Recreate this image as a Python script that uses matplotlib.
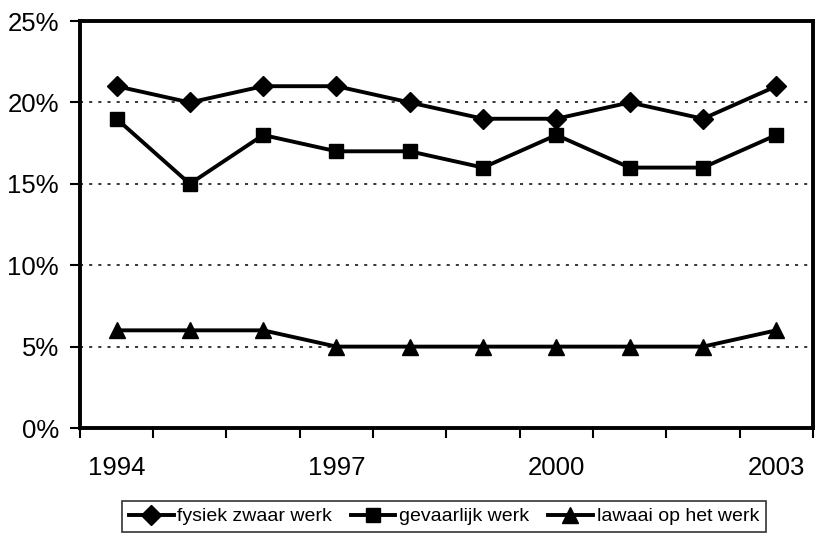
import numpy as np
import matplotlib.pyplot as plt
from matplotlib.ticker import FuncFormatter

plt.rcParams['font.family'] = ['Liberation Sans', 'DejaVu Sans']

# data (percent)
years = [1994, 1995, 1996, 1997, 1998, 1999, 2000, 2001, 2002, 2003]
fysiek = [21, 20, 21, 21, 20, 19, 19, 20, 19, 21]
gevaarlijk = [19, 15, 18, 17, 17, 16, 18, 16, 16, 18]
lawaai = [6, 6, 6, 5, 5, 5, 5, 5, 5, 6]
labels = ['fysiek zwaar werk', 'gevaarlijk werk', 'lawaai op het werk']
shown_years = [1994, 1997, 2000, 2003]

fig = plt.figure(figsize=(8.15, 5.34), dpi=100)
ax = fig.add_axes([0.098, 0.1985, 0.8995, 0.762])

x = np.arange(len(years))
ax.plot(x, fysiek, color='black', lw=2.8, marker='D', ms=10, label=labels[0])
ax.plot(x, gevaarlijk, color='black', lw=2.8, marker='s', ms=9.5, label=labels[1])
ax.plot(x, lawaai, color='black', lw=2.8, marker='^', ms=11, label=labels[2])

ax.set_xlim(-0.5, len(years) - 0.5)
ax.set_ylim(0, 25)

# category axis: ticks between categories, labels every third year
ax.set_xticks(np.arange(-0.5, len(years)), labels=[''] * (len(years) + 1))
ax.set_xticks([years.index(y) for y in shown_years], labels=[str(y) for y in shown_years], minor=True)
ax.tick_params(axis='x', which='major', length=7, width=1.5, direction='out')
ax.tick_params(axis='x', which='minor', length=0, pad=20, labelsize=18.5)

ax.set_yticks([0, 5, 10, 15, 20, 25])
ax.yaxis.set_major_formatter(FuncFormatter(lambda v, p: f'{v:.0f}%'))
ax.tick_params(axis='y', length=7, width=1.5, direction='out', pad=8, labelsize=18.5)

for yv in [5, 10, 15, 20]:
    ax.axhline(yv, color='black', lw=1.1, linestyle=(0, (2, 4)), zorder=0)

for s in ax.spines.values():
    s.set_linewidth(2.8)

leg = fig.legend(loc='upper left', bbox_to_anchor=(0.1497, 0.0618), ncol=3,
                 frameon=True, fancybox=False, edgecolor='black', fontsize=14,
                 handlelength=2.3, handletextpad=0.2, columnspacing=0.95,
                 borderpad=0.35, borderaxespad=0)
leg.get_frame().set_linewidth(1.2)

fig.savefig('out.png', dpi=100)
